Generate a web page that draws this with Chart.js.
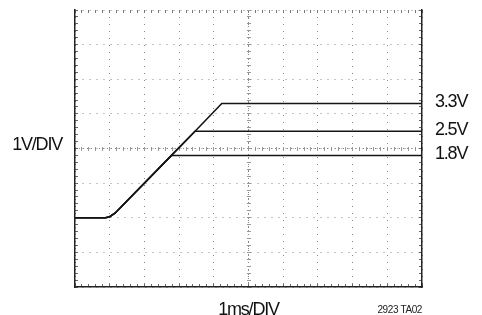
<!DOCTYPE html>
<html>
<head>
<meta charset="utf-8">
<script src="https://cdn.jsdelivr.net/npm/chart.js@4/dist/chart.umd.min.js"></script>
<style>
html,body{margin:0;padding:0;background:#fff;}
#wrap{width:482px;height:315px;position:relative;}
</style>
</head>
<body>
<div id="wrap"><canvas id="c"></canvas></div>
<script>
// Time in ms, voltage in V
const time33 = [0, 0.88, 1.0, 1.15, 1.3, 2.78, 3.46, 4.23, 10];
const volt33 = [0, 0, 0.03, 0.13, 0.28, 1.8, 2.5, 3.3, 3.3];
const time25 = [0, 0.88, 1.0, 1.15, 1.3, 2.78, 3.46, 10];
const volt25 = [0, 0, 0.03, 0.13, 0.28, 1.8, 2.5, 2.5];
const time18 = [0, 0.88, 1.0, 1.15, 1.3, 2.78, 10];
const volt18 = [0, 0, 0.03, 0.13, 0.28, 1.8, 1.8];
const seriesLabels = ['3.3V', '2.5V', '1.8V'];
const levelTicks = [3.3, 2.5, 1.8];
const xTitle = '1ms/DIV';
const yLabel = '1V/DIV';
const figId = '2923 TA02';

const FONT = "'Liberation Sans Narrow', 'Arial Narrow', 'Liberation Sans', Arial, sans-serif";
const SPACING = '-1.2px';
const toPts = (t, v) => t.map((x, i) => ({x: x, y: v[i]}));

const ds = (lbl, t, v) => ({
  label: lbl, data: toPts(t, v), borderColor: '#151515', borderWidth: 1.6,
  pointRadius: 0, tension: 0, fill: false, xAxisID: 'x', yAxisID: 'y'
});

const noPad = s => { s.paddingTop = 0; s.paddingBottom = 0; s.paddingLeft = 0; s.paddingRight = 0; };

const spacingPlugin = {
  id: 'spacing',
  beforeLayout(chart) { chart.ctx.letterSpacing = SPACING; },
  beforeDraw(chart) { chart.ctx.letterSpacing = SPACING; }
};

const footPlugin = {
  id: 'foot',
  afterDraw(chart) {
    const ctx = chart.ctx;
    ctx.save();
    ctx.letterSpacing = '-0.4px';
    ctx.font = "10px " + FONT;
    ctx.fillStyle = '#222';
    ctx.textAlign = 'right';
    ctx.textBaseline = 'alphabetic';
    ctx.fillText(figId, chart.chartArea.right, 313);
    ctx.restore();
  }
};

// minor-tick axis factory (tick marks every 0.2 division)
const minorAxis = (pos, min, max, len, weight, color) => ({
  type: 'linear', position: pos, min: min, max: max, weight: weight,
  ticks: { display: false, stepSize: 0.2, autoSkip: false },
  grid: { drawOnChartArea: false, drawTicks: true, tickLength: len, tickColor: color, tickWidth: 1 },
  border: { display: false },
  afterFit: s => { noPad(s); if (s.isHorizontal()) s.height = 0; else s.width = 0; }
});

new Chart(document.getElementById('c'), {
  type: 'line',
  data: { datasets: [ds(seriesLabels[0], time33, volt33), ds(seriesLabels[1], time25, volt25), ds(seriesLabels[2], time18, volt18)] },
  options: {
    responsive: true, maintainAspectRatio: false, animation: false,
    layout: { padding: { top: 10, left: 0, right: 0, bottom: 0 } },
    plugins: { legend: { display: false }, tooltip: { enabled: false } },
    scales: {
      x: {
        type: 'linear', position: 'bottom', min: 0, max: 10,
        ticks: { stepSize: 1, display: false },
        grid: { color: '#888', lineWidth: 1, drawTicks: false },
        border: { display: true, color: '#222', width: 1.5, dash: [1, 6] },
        title: { display: true, text: xTitle, color: '#111', font: { family: FONT, size: 18, lineHeight: 1 }, padding: { top: 0, bottom: -4 } },
        afterFit: s => { noPad(s); s.height = 28; }
      },
      xc: {
        type: 'linear', position: 'bottom', min: 0, max: 10,
        afterBuildTicks: s => { s.ticks = [{ value: 5 }]; },
        ticks: { display: false },
        grid: { color: '#888', lineWidth: 1, drawTicks: false },
        border: { display: false, dash: [1, 3] },
        afterFit: s => { noPad(s); s.height = 0; }
      },
      xmB: minorAxis('bottom', 0, 10, -3, -1, '#666'),
      xmT: minorAxis('top', 0, 10, -3, -1, '#777'),
      xmC1: minorAxis({ y: 2 }, 0, 10, 2, 0, '#999'),
      xmC2: minorAxis({ y: 2 }, 0, 10, -2, 0, '#999'),
      y: {
        type: 'linear', position: 'left', min: -2, max: 6,
        ticks: { stepSize: 1, autoSkip: false, padding: 13, labelOffset: -3, color: '#111', font: { family: FONT, size: 18 },
          callback: v => (v === 2 ? yLabel : '') },
        grid: { color: '#888', lineWidth: 1, drawTicks: false },
        border: { display: true, color: '#222', width: 1.5, dash: [1, 6] },
        afterFit: s => { noPad(s); s.width = 75; }
      },
      yc: {
        type: 'linear', position: 'left', min: -2, max: 6,
        afterBuildTicks: s => { s.ticks = [{ value: 2 }]; },
        ticks: { display: false },
        grid: { color: '#888', lineWidth: 1, drawTicks: false },
        border: { display: false, dash: [1, 3] },
        afterFit: s => { noPad(s); s.width = 0; }
      },
      ymL: minorAxis('left', -2, 6, -3, -1, '#666'),
      ymR: minorAxis('right', -2, 6, -3, -1, '#666'),
      ymC1: minorAxis({ x: 5 }, -2, 6, 2, 0, '#999'),
      ymC2: minorAxis({ x: 5 }, -2, 6, -2, 0, '#999'),
      yr: {
        type: 'linear', position: 'right', min: -2, max: 6,
        afterBuildTicks: s => { s.ticks = levelTicks.map(v => ({ value: v })); },
        ticks: { autoSkip: false, padding: 13, labelOffset: -1, color: '#111', font: { family: FONT, size: 18 },
          callback: v => v.toFixed(1) + 'V' },
        grid: { drawOnChartArea: false, drawTicks: false },
        border: { display: true, color: '#222', width: 1.5 },
        afterFit: s => { noPad(s); s.width = 60; }
      }
    }
  },
  plugins: [spacingPlugin, footPlugin]
});
</script>
</body>
</html>
